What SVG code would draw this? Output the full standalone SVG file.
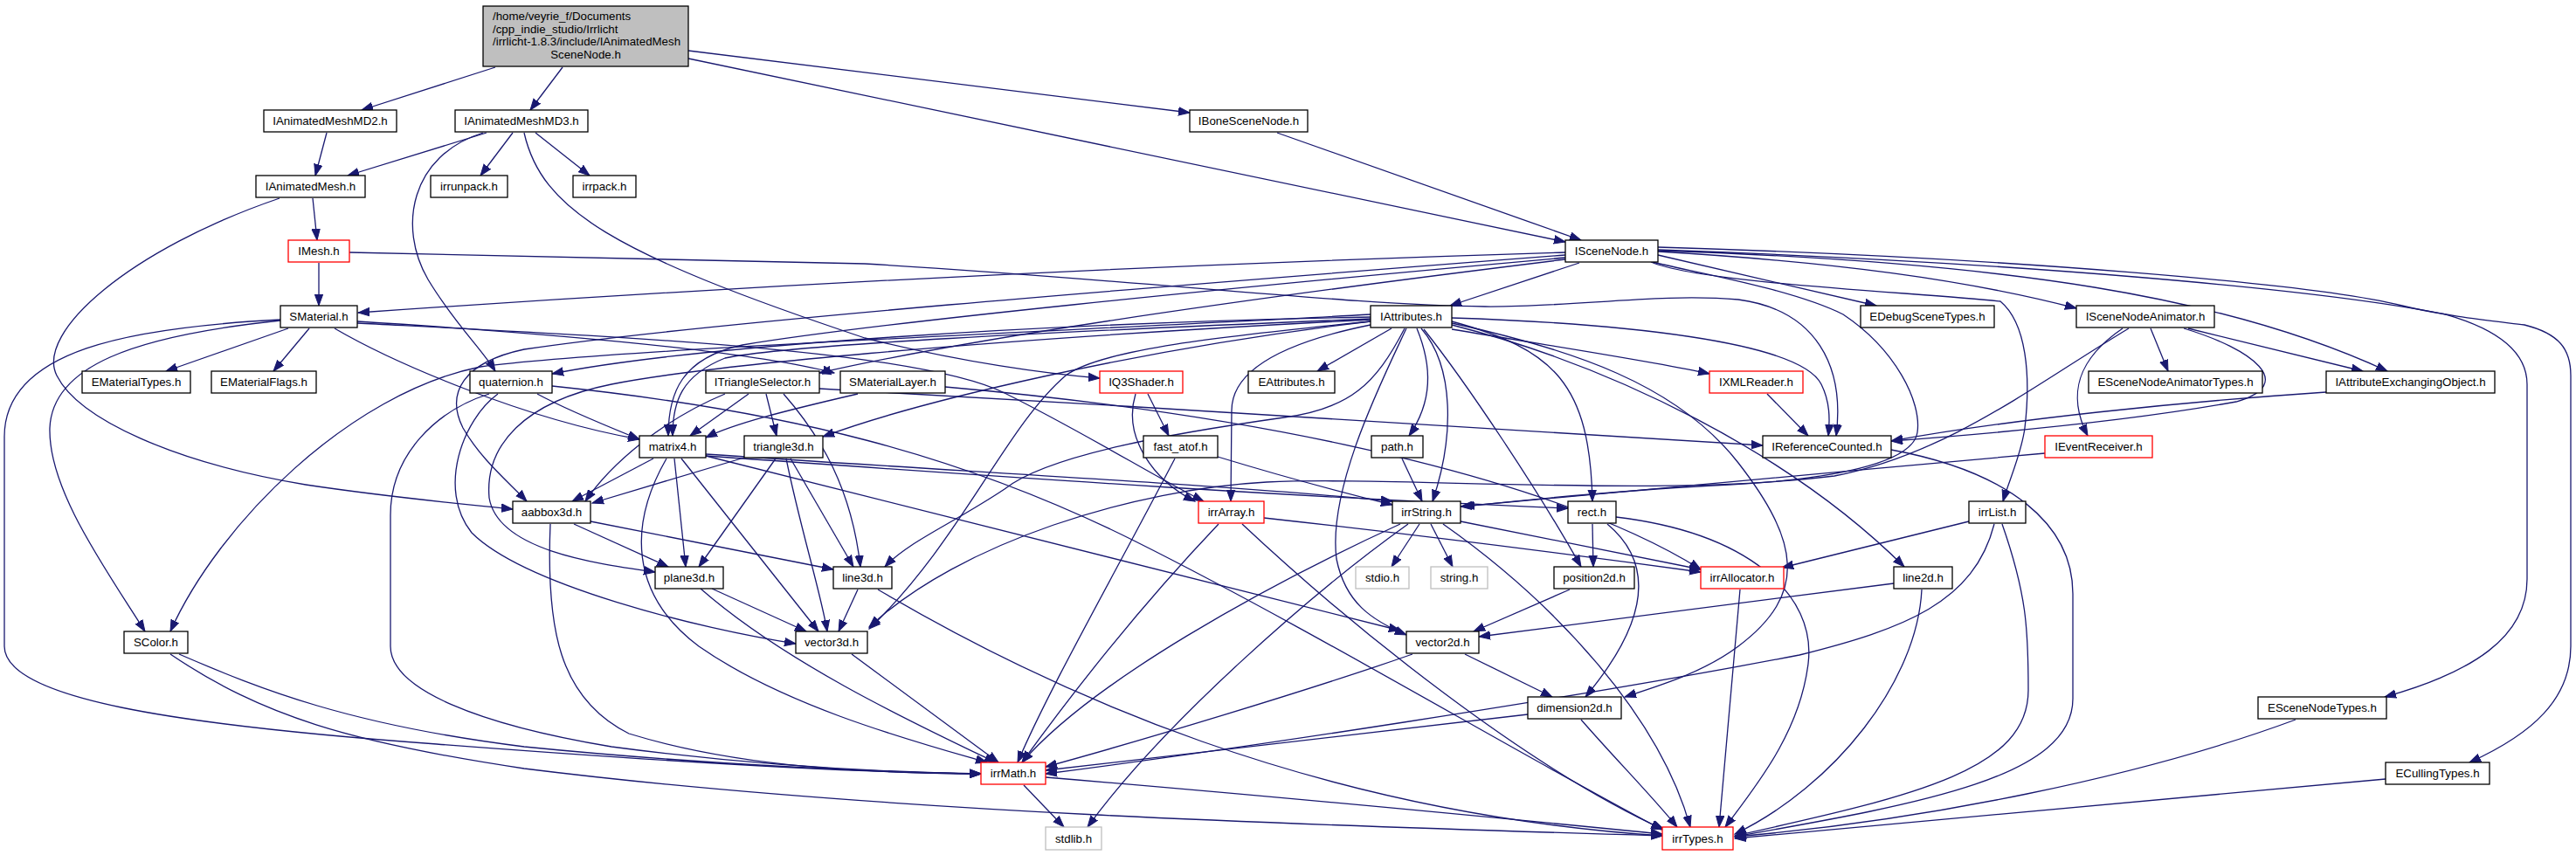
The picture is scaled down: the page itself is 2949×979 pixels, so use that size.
<svg xmlns="http://www.w3.org/2000/svg" width="2949" height="979" viewBox="0 0 2949 979">
<style>
.n rect{fill:#fff;stroke:#000;stroke-width:1.3}
.n.r rect{stroke:#f00}
.n.g rect{stroke:#bfbfbf}
.n.root rect{fill:#bfbfbf}
text{font-family:"Liberation Sans",Arial,sans-serif;font-size:13.3px;fill:#000;text-anchor:middle}
.e path{fill:none;stroke:#191970;stroke-width:1.3;marker-end:url(#a)}
</style>
<defs>
<marker id="a" markerWidth="14" markerHeight="11" refX="13" refY="5.5" orient="auto" markerUnits="userSpaceOnUse"><path d="M0,0.8 L13,5.5 L0,10.2 z" fill="#191970" stroke="#191970" stroke-width="1"/></marker>
</defs>
<rect width="2949" height="979" fill="#fff"/>
<g class="e">
<path d="M567,77 L414,126"/>
<path d="M644,77 L607,126"/>
<path d="M788,58 L1362,129"/>
<path d="M788,67 L1792,277"/>
<path d="M1462,152 L1810,275"/>
<path d="M374,152 L361,201"/>
<path d="M557,152 L398,201"/>
<path d="M587,152 L550,201"/>
<path d="M613,152 L675,201"/>
<path d="M553,152 C 470,178 455,260 490,320 C 520,370 552,400 567,425"/>
<path d="M600,152 C 620,240 700,290 990,387 C 1100,415 1200,428 1259,433"/>
<path d="M358,227 L363,275"/>
<path d="M320,227 C 150,285 40,380 65,430 C 90,480 200,530 350,555 C 450,570 530,577 587,583"/>
<path d="M365,301 L365,350"/>
<path d="M400,289 L990,302 C 1300,320 1550,350 1700,351 C 1800,352 1900,335 1990,343 C 2080,355 2112,420 2102,499"/>
<path d="M1792,289 Q 1100,310 410,358"/>
<path d="M1792,292 C 1300,330 800,370 600,400 C 530,415 510,450 530,490 C 550,525 580,550 603,574"/>
<path d="M1792,295 C 1400,330 1000,370 850,395 C 780,410 765,450 765,499"/>
<path d="M1792,297 C 1400,345 1100,390 938,427"/>
<path d="M1892,300 C 1930,310 2050,330 2110,360 C 2170,400 2200,460 2195,495 C 2190,530 2100,550 1960,556 C 1850,562 1750,572 1675,580"/>
<path d="M1808,301 L1660,350"/>
<path d="M1898,292 L2148,350"/>
<path d="M1898,288 C 2100,300 2250,320 2377,353"/>
<path d="M1898,287 C 2300,300 2550,340 2733,425"/>
<path d="M1898,286 C 2300,300 2650,330 2800,360 C 2870,380 2893,410 2893,440 L2893,663 C 2893,730 2830,770 2730,798"/>
<path d="M1898,283 C 2300,295 2650,325 2750,350 C 2800,362 2850,367 2890,372 C 2930,382 2943,400 2943,430 L2943,740 C 2943,800 2900,840 2827,873"/>
<path d="M1890,300 C 1950,325 2200,335 2290,345 C 2320,370 2325,430 2318,490 C 2314,520 2300,550 2293,574"/>
<path d="M330,376 L190,425"/>
<path d="M354,376 L313,425"/>
<path d="M321,367 C 150,385 60,420 57,490 C 55,560 120,650 166,723"/>
<path d="M321,366 C 150,375 5,400 5,500 L5,740 C 5,800 200,830 500,852 C 800,875 1000,885 1123,886"/>
<path d="M383,376 C 450,415 600,480 732,503"/>
<path d="M409,368 C 600,380 850,400 955,427"/>
<path d="M409,370 C 700,385 1050,400 1150,450 C 1250,500 1320,545 1378,574"/>
<path d="M1593,376 L1508,425"/>
<path d="M1662,377 C 1800,400 1900,415 1957,428"/>
<path d="M1622,376 C 1640,420 1640,460 1613,499"/>
<path d="M1627,376 C 1665,420 1665,500 1640,574"/>
<path d="M1569,372 C 1480,390 1410,420 1410,470 L1409,574"/>
<path d="M1662,368 C 1780,400 1820,440 1823,574"/>
<path d="M1630,377 C 1680,440 1760,560 1810,649"/>
<path d="M1662,370 C 1800,400 1920,440 1990,530 C 2060,620 2070,680 1990,740 C 1950,770 1900,785 1860,798"/>
<path d="M1662,372 C 1850,420 2050,520 2180,649"/>
<path d="M1662,364 C 1850,370 2060,390 2085,440 C 2095,460 2095,480 2093,499"/>
<path d="M1569,360 C 1200,380 700,400 550,420 C 400,450 250,600 195,723"/>
<path d="M1569,368 C 1400,385 1260,400 1220,430 C 1150,490 1100,620 995,720"/>
<path d="M1610,376 C 1580,440 1520,560 1530,640 C 1540,690 1570,710 1610,727"/>
<path d="M1608,376 C 1575,440 1545,468 1470,478 C 1350,495 1200,520 1150,560 C 1090,600 1040,620 1013,649"/>
<path d="M1569,365 C 1200,380 900,395 830,410 C 780,430 770,460 770,499"/>
<path d="M1569,363 C 1200,370 800,395 632,428"/>
<path d="M1569,366 C 1100,390 800,420 700,440 C 600,460 555,510 560,570 C 570,630 680,645 750,655"/>
<path d="M1569,368 C 1300,400 1050,460 942,500"/>
<path d="M2462,376 L2482,425"/>
<path d="M2505,376 L2705,425"/>
<path d="M2500,376 C 2580,400 2630,440 2560,460 C 2450,480 2300,495 2165,505"/>
<path d="M2430,376 C 2380,410 2365,450 2390,499"/>
<path d="M2437,376 C 2330,440 2230,520 2100,545 C 1900,570 1600,545 1450,552 C 1300,560 1100,620 995,718"/>
<path d="M2023,451 L2070,499"/>
<path d="M938,445 C 1300,465 1700,490 2018,510"/>
<path d="M877,451 L889,499"/>
<path d="M897,451 C 940,500 975,560 985,649"/>
<path d="M830,451 C 760,480 700,530 670,574"/>
<path d="M857,451 L790,499"/>
<path d="M982,451 C 900,470 840,485 808,501"/>
<path d="M1082,443 C 1500,480 1800,560 1947,652"/>
<path d="M1314,451 L1338,499"/>
<path d="M1300,451 C 1285,500 1320,550 1368,574"/>
<path d="M615,451 C 650,470 700,490 732,503"/>
<path d="M570,451 C 530,480 500,560 540,610 C 600,670 800,720 911,737"/>
<path d="M560,451 C 500,470 447,520 447,590 L447,740 C 447,790 550,830 700,855 C 850,875 1000,884 1123,886"/>
<path d="M632,442 C 900,470 1100,520 1300,620 C 1500,720 1750,870 1903,950"/>
<path d="M748,525 L655,574"/>
<path d="M772,525 L785,649"/>
<path d="M780,525 L937,723"/>
<path d="M763,525 C 720,600 720,680 800,740 C 900,810 1050,850 1130,873"/>
<path d="M808,522 L1603,722"/>
<path d="M808,520 C 1100,540 1400,555 1594,574"/>
<path d="M808,522 C 1200,550 1500,570 1795,582"/>
<path d="M852,524 L678,576"/>
<path d="M888,525 L800,649"/>
<path d="M900,525 C 915,600 940,680 947,723"/>
<path d="M905,525 L977,649"/>
<path d="M1345,525 C 1280,650 1200,790 1165,873"/>
<path d="M1394,523 C 1450,540 1520,560 1594,578"/>
<path d="M1395,600 C 1300,700 1230,790 1170,873"/>
<path d="M1422,600 C 1550,720 1750,880 1905,950"/>
<path d="M1447,593 C 1600,610 1800,635 1947,655"/>
<path d="M1605,525 L1628,574"/>
<path d="M1625,600 L1593,649"/>
<path d="M1638,600 L1663,649"/>
<path d="M1672,597 L1947,652"/>
<path d="M1652,600 C 1780,690 1900,820 1935,947"/>
<path d="M1603,600 C 1450,670 1250,780 1170,873"/>
<path d="M1612,600 C 1500,680 1330,830 1245,947"/>
<path d="M1823,600 L1824,649"/>
<path d="M1840,600 C 1900,650 1880,720 1815,798"/>
<path d="M1850,592 C 2000,610 2080,680 2070,760 C 2060,840 2010,900 1975,947"/>
<path d="M2165,515 C 2300,540 2373,600 2373,680 L2373,800 C 2373,890 2200,920 1986,958"/>
<path d="M2341,519 C 2100,540 1800,570 1672,580"/>
<path d="M2663,449 C 2500,460 2300,480 2165,505"/>
<path d="M657,600 L765,649"/>
<path d="M676,597 L954,652"/>
<path d="M630,600 C 625,720 640,800 720,840 C 850,880 1000,885 1123,886"/>
<path d="M815,674 L923,723"/>
<path d="M802,674 C 900,760 1050,830 1140,873"/>
<path d="M982,675 L960,723"/>
<path d="M1005,675 C 1200,790 1500,930 1903,957"/>
<path d="M975,749 L1143,873"/>
<path d="M1797,675 L1687,723"/>
<path d="M1677,749 L1777,798"/>
<path d="M1617,749 C 1500,790 1300,850 1197,878"/>
<path d="M1810,824 C 1850,870 1890,910 1920,947"/>
<path d="M1749,818 L1197,882"/>
<path d="M1992,675 L1968,947"/>
<path d="M2200,675 C 2195,780 2100,900 1986,955"/>
<path d="M2168,668 L1693,729"/>
<path d="M2254,597 L2040,650"/>
<path d="M2292,600 C 2320,680 2322,720 2322,790 C 2322,880 2200,910 1986,957"/>
<path d="M2283,600 C 2260,690 2180,720 2060,750 C 1800,800 1400,860 1197,886"/>
<path d="M1172,899 L1218,947"/>
<path d="M1197,890 C 1500,915 1700,935 1903,955"/>
<path d="M205,749 C 300,790 400,830 600,855 C 800,875 1000,884 1123,886"/>
<path d="M195,749 C 300,820 400,850 600,880 C 1000,930 1500,945 1903,957"/>
<path d="M2628,824 C 2450,890 2200,940 1986,958"/>
<path d="M2731,892 L1986,960"/>
</g>
<g id="root" class="n root"><rect x="553" y="7" width="235" height="69"/>
<text x="564" y="23" style="text-anchor:start">/home/veyrie_f/Documents</text>
<text x="564" y="37.5" style="text-anchor:start">/cpp_indie_studio/Irrlicht</text>
<text x="564" y="52" style="text-anchor:start">/irrlicht-1.8.3/include/IAnimatedMesh</text>
<text x="670.5" y="67">SceneNode.h</text></g>
<g id="IAnimatedMeshMD2" class="n"><rect x="302" y="126" width="152" height="25"/><text x="378" y="143">IAnimatedMeshMD2.h</text></g>
<g id="IAnimatedMeshMD3" class="n"><rect x="521" y="126" width="152" height="25"/><text x="597" y="143">IAnimatedMeshMD3.h</text></g>
<g id="IBoneSceneNode" class="n"><rect x="1362" y="126" width="135" height="25"/><text x="1429.5" y="143">IBoneSceneNode.h</text></g>
<g id="irrunpack" class="n"><rect x="493" y="201" width="88" height="25"/><text x="537" y="218">irrunpack.h</text></g>
<g id="irrpack" class="n"><rect x="656" y="201" width="72" height="25"/><text x="692" y="218">irrpack.h</text></g>
<g id="IAnimatedMesh" class="n"><rect x="293" y="201" width="125" height="25"/><text x="355.5" y="218">IAnimatedMesh.h</text></g>
<g id="IMesh" class="n r"><rect x="330" y="275" width="70" height="25"/><text x="365" y="292">IMesh.h</text></g>
<g id="ISceneNode" class="n"><rect x="1792" y="275" width="106" height="25"/><text x="1845" y="292">ISceneNode.h</text></g>
<g id="SMaterial" class="n"><rect x="321" y="350" width="88" height="25"/><text x="365" y="367">SMaterial.h</text></g>
<g id="IAttributes" class="n"><rect x="1569" y="350" width="93" height="25"/><text x="1615.5" y="367">IAttributes.h</text></g>
<g id="EDebugSceneTypes" class="n"><rect x="2130" y="350" width="153" height="25"/><text x="2206.5" y="367">EDebugSceneTypes.h</text></g>
<g id="ISceneNodeAnimator" class="n"><rect x="2377" y="350" width="158" height="25"/><text x="2456" y="367">ISceneNodeAnimator.h</text></g>
<g id="EMaterialTypes" class="n"><rect x="94" y="425" width="124" height="25"/><text x="156" y="442">EMaterialTypes.h</text></g>
<g id="EMaterialFlags" class="n"><rect x="242" y="425" width="120" height="25"/><text x="302" y="442">EMaterialFlags.h</text></g>
<g id="quaternion" class="n"><rect x="538" y="425" width="94" height="25"/><text x="585" y="442">quaternion.h</text></g>
<g id="ITriangleSelector" class="n"><rect x="808" y="425" width="130" height="25"/><text x="873" y="442">ITriangleSelector.h</text></g>
<g id="SMaterialLayer" class="n"><rect x="962" y="425" width="120" height="25"/><text x="1022" y="442">SMaterialLayer.h</text></g>
<g id="IQ3Shader" class="n r"><rect x="1259" y="425" width="95" height="25"/><text x="1306.5" y="442">IQ3Shader.h</text></g>
<g id="EAttributes" class="n"><rect x="1429" y="425" width="99" height="25"/><text x="1478.5" y="442">EAttributes.h</text></g>
<g id="IXMLReader" class="n r"><rect x="1957" y="425" width="107" height="25"/><text x="2010.5" y="442">IXMLReader.h</text></g>
<g id="ESceneNodeAnimatorTypes" class="n"><rect x="2391" y="425" width="199" height="25"/><text x="2490.5" y="442">ESceneNodeAnimatorTypes.h</text></g>
<g id="IAttributeExchangingObject" class="n"><rect x="2663" y="425" width="193" height="25"/><text x="2759.5" y="442">IAttributeExchangingObject.h</text></g>
<g id="matrix4" class="n"><rect x="732" y="499" width="76" height="25"/><text x="770" y="516">matrix4.h</text></g>
<g id="triangle3d" class="n"><rect x="852" y="499" width="90" height="25"/><text x="897" y="516">triangle3d.h</text></g>
<g id="fast_atof" class="n"><rect x="1309" y="499" width="85" height="25"/><text x="1351.5" y="516">fast_atof.h</text></g>
<g id="path" class="n"><rect x="1570" y="499" width="59" height="25"/><text x="1599.5" y="516">path.h</text></g>
<g id="IReferenceCounted" class="n"><rect x="2018" y="499" width="147" height="25"/><text x="2091.5" y="516">IReferenceCounted.h</text></g>
<g id="IEventReceiver" class="n r"><rect x="2341" y="499" width="123" height="25"/><text x="2402.5" y="516">IEventReceiver.h</text></g>
<g id="aabbox3d" class="n"><rect x="587" y="574" width="89" height="25"/><text x="631.5" y="591">aabbox3d.h</text></g>
<g id="irrArray" class="n r"><rect x="1372" y="574" width="75" height="25"/><text x="1409.5" y="591">irrArray.h</text></g>
<g id="irrString" class="n"><rect x="1594" y="574" width="78" height="25"/><text x="1633" y="591">irrString.h</text></g>
<g id="rect" class="n"><rect x="1795" y="574" width="55" height="25"/><text x="1822.5" y="591">rect.h</text></g>
<g id="irrList" class="n"><rect x="2254" y="574" width="65" height="25"/><text x="2286.5" y="591">irrList.h</text></g>
<g id="plane3d" class="n"><rect x="750" y="649" width="78" height="25"/><text x="789" y="666">plane3d.h</text></g>
<g id="line3d" class="n"><rect x="954" y="649" width="67" height="25"/><text x="987.5" y="666">line3d.h</text></g>
<g id="stdio" class="n g"><rect x="1552" y="649" width="61" height="25"/><text x="1582.5" y="666">stdio.h</text></g>
<g id="string" class="n g"><rect x="1638" y="649" width="65" height="25"/><text x="1670.5" y="666">string.h</text></g>
<g id="position2d" class="n"><rect x="1779" y="649" width="92" height="25"/><text x="1825" y="666">position2d.h</text></g>
<g id="irrAllocator" class="n r"><rect x="1947" y="649" width="95" height="25"/><text x="1994.5" y="666">irrAllocator.h</text></g>
<g id="line2d" class="n"><rect x="2168" y="649" width="67" height="25"/><text x="2201.5" y="666">line2d.h</text></g>
<g id="SColor" class="n"><rect x="142" y="723" width="73" height="25"/><text x="178.5" y="740">SColor.h</text></g>
<g id="vector3d" class="n"><rect x="911" y="723" width="82" height="25"/><text x="952" y="740">vector3d.h</text></g>
<g id="vector2d" class="n"><rect x="1610" y="723" width="83" height="25"/><text x="1651.5" y="740">vector2d.h</text></g>
<g id="dimension2d" class="n"><rect x="1749" y="798" width="107" height="25"/><text x="1802.5" y="815">dimension2d.h</text></g>
<g id="ESceneNodeTypes" class="n"><rect x="2585" y="798" width="147" height="25"/><text x="2658.5" y="815">ESceneNodeTypes.h</text></g>
<g id="irrMath" class="n r"><rect x="1123" y="873" width="74" height="25"/><text x="1160" y="890">irrMath.h</text></g>
<g id="ECullingTypes" class="n"><rect x="2731" y="873" width="119" height="25"/><text x="2790.5" y="890">ECullingTypes.h</text></g>
<g id="stdlib" class="n g"><rect x="1197" y="947" width="64" height="26"/><text x="1229" y="965">stdlib.h</text></g>
<g id="irrTypes" class="n r"><rect x="1903" y="947" width="81" height="26"/><text x="1943.5" y="965">irrTypes.h</text></g>
</svg>
